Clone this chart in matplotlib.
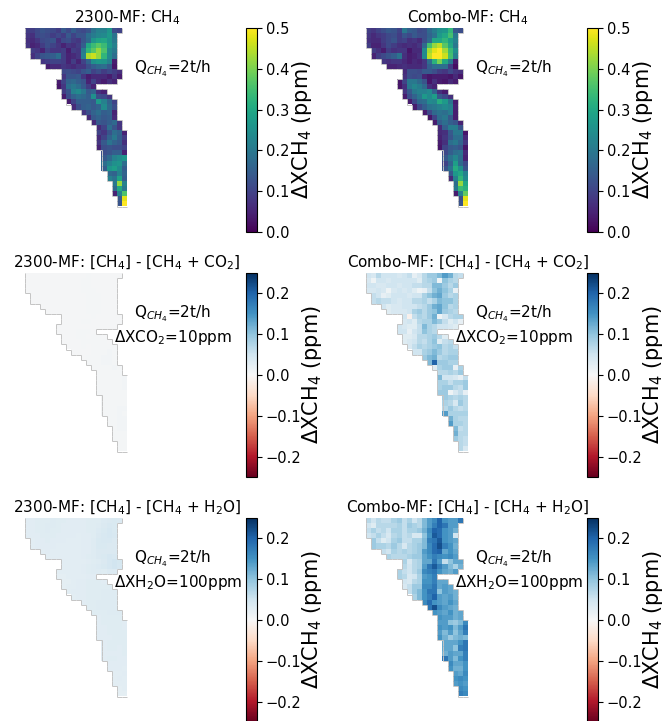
import numpy as np
from matplotlib import pyplot as plt
from matplotlib.collections import LineCollection

row_start = [0, 0, 0, 0, 1, 1, 3, 4, 7, 7, 6, 6, 7, 7, 8, 9, 11, 12, 13, 14, 14, 14, 14, 14,
             15, 15, 15, 15, 16, 16, 17, 17, 17, 18, 18]

# delta XCH4, units of 0.01 ppm
ch4_2300 = [
    [9,9,11,13,12,11,9,14,11,15,12,11,13,19,22,22,26,12,10],
    [8,7,11,12,11,9,11,9,14,10,13,13,18,21,23,24,27,19],
    [7,6,8,11,12,13,7,11,12,9,8,13,17,26,29,30,26,20],
    [8,5,6,9,12,10,8,5,8,7,9,15,30,34,37,34,27,22],
    [9,8,5,10,8,8,9,4,9,8,21,33,37,42,36,24,20],
    [7,10,13,14,15,18,9,5,6,8,22,44,46,42,33,24,18],
    [8,9,10,10,9,5,9,5,10,16,25,27,26,22,4],
    [4,6,6,8,7,6,8,8,12,15,17,18,14,3],
    [11,12,11,10,13,15,10,12,9,11,9,7],
    [8,13,13,14,8,4,6,6,6,4,8,4],
    [4,10,16,17,15,13,5,10,6,4,7,5],
    [3,8,18,20,18,14,9,5],
    [9,13,22,24,20,14,16,7,5],
    [4,12,16,18,17,15,25,12,11,8],
    [4,10,15,15,15,14,27,22,16,10],
    [6,12,15,16,14,16,24,17,12],
    [8,12,16,18,15,16,5],
    [6,14,16,14,15,6],
    [6,14,13,15,17,8],
    [6,10,18,13,8],
    [10,8,13,18,16,5],
    [6,10,16,20,15,9],
    [8,14,19,16,14,7],
    [5,12,13,12,12,10],
    [12,13,15,15,5],
    [14,17,22,24,26],
    [18,22,25,26,18],
    [15,26,28,24,15],
    [17,16,22,16],
    [22,19,29,15],
    [20,42,22],
    [17,30,20],
    [5,22,36],
    [14,48],
    [13,50],
]
ch4_combo = [
    [9,8,10,12,14,13,10,20,15,14,11,12,17,21,25,26,33,14,12],
    [8,6,8,9,11,12,9,13,11,14,12,12,16,19,27,30,35,20],
    [7,6,6,9,11,13,9,10,7,8,6,12,17,30,30,33,28,22],
    [9,5,5,8,11,9,7,6,7,6,8,17,35,42,45,37,30,20],
    [9,7,4,9,7,8,8,3,6,6,24,43,48,50,43,34,25],
    [5,9,11,13,15,19,7,4,5,7,24,45,50,50,46,35,22],
    [8,7,8,8,6,4,6,5,8,18,32,40,30,20,4],
    [5,5,6,7,6,6,6,8,15,18,18,18,9,2],
    [6,12,12,11,14,14,12,9,8,11,8,7],
    [7,12,11,12,5,3,4,4,4,3,6,3],
    [3,10,20,20,17,13,3,7,4,3,6,4],
    [3,7,20,23,21,17,7,5],
    [8,14,20,22,22,24,16,7,4],
    [4,12,16,20,27,24,28,14,11,7],
    [4,11,17,18,24,23,31,27,19,4],
    [4,11,15,19,20,22,24,22,5],
    [4,11,17,19,18,21,4],
    [3,10,18,20,14,4],
    [4,15,18,15,13,5],
    [6,15,21,21,13],
    [6,7,14,20,20,3],
    [5,8,13,18,18,6],
    [4,7,18,20,16,8],
    [3,10,14,15,13,3],
    [11,15,18,19,6],
    [14,19,23,18,5],
    [10,16,28,17,11],
    [13,19,31,25,13],
    [14,27,30,22],
    [6,22,33,24],
    [18,42,30],
    [20,34,32],
    [4,22,38],
    [12,48],
    [13,50],
]
# differences, combo panels in 0.01 ppm
co2_combo = [
    [5,4,7,5,5,5,4,5,6,2,4,7,9,9,11,14,12,7,6],
    [4,1,5,5,4,5,5,5,5,5,3,7,8,9,1,10,8,7],
    [5,5,4,4,5,5,4,5,5,6,6,7,7,11,11,9,7,9],
    [4,4,5,4,1,4,5,4,5,3,1,2,6,10,12,10,8,2],
    [6,5,2,3,5,5,5,4,5,5,8,10,12,13,9,7,8],
    [6,7,6,6,5,4,5,5,7,7,8,6,8,11,10,10,8],
    [5,3,4,4,5,5,5,6,7,9,12,13,10,7,8],
    [3,4,4,4,5,8,9,7,9,10,13,9,8,7],
    [5,-1,6,8,7,9,12,1,4,7,8,8],
    [4,5,3,7,8,8,11,9,6,3,5,2],
    [5,4,3,3,6,11,8,7,5,5,4,3],
    [5,5,2,5,6,10,8,7],
    [3,3,4,7,7,8,9,7,3],
    [3,4,5,7,6,8,10,3,6,7],
    [4,6,8,7,8,9,10,7,8,6],
    [5,5,8,9,11,9,7,8,8],
    [9,11,12,7,8,9,9],
    [11,20,9,9,8,8],
    [3,8,9,9,2,8],
    [7,7,8,7,9],
    [11,5,5,4,2,6],
    [8,8,6,8,8,9],
    [8,9,9,7,6,9],
    [9,9,1,4,6,2],
    [9,8,7,8,7],
    [8,7,4,9,7],
    [7,9,7,6,7],
    [14,8,8,8,8],
    [12,8,7,7],
    [14,8,8,7],
    [11,6,7],
    [12,7,7],
    [9,7,6],
    [7,6],
    [7,4],
]
h2o_combo = [
    [7,5,7,6,6,8,9,6,8,5,7,11,14,16,20,15,14,14,18],
    [5,3,7,7,7,7,8,6,9,8,7,11,14,17,20,18,14,14],
    [6,8,6,7,5,8,8,6,8,8,9,12,16,20,19,15,14,12],
    [5,6,8,6,4,7,8,6,7,4,4,10,15,21,19,15,14,5],
    [9,6,3,5,8,9,6,6,8,8,11,17,18,21,15,14,13],
    [9,8,8,7,9,7,4,7,8,9,11,16,19,22,17,15,12],
    [6,5,8,7,8,7,8,9,14,16,19,20,13,15,13],
    [8,7,7,7,8,9,9,13,15,17,16,15,16,14],
    [8,4,7,8,13,13,18,14,6,10,13,13],
    [7,5,7,8,14,18,21,17,14,11,8,12],
    [8,6,5,7,9,16,17,18,15,13,12,14],
    [8,7,4,5,8,14,15,17],
    [5,4,7,8,15,15,17,13,13],
    [4,6,9,9,16,16,18,13,14,13],
    [6,9,11,15,18,18,10,14,13,12],
    [8,11,15,17,20,14,13,14,12],
    [16,19,15,14,13,15,13],
    [18,22,16,14,13,12],
    [15,14,13,15,12,13],
    [15,14,14,12,13],
    [14,14,10,9,11,16],
    [15,14,15,11,14,18],
    [14,11,14,10,13,17],
    [15,12,9,11,12,11],
    [13,13,13,15,18],
    [13,13,10,17,18],
    [12,14,13,13,17],
    [18,14,11,15,17],
    [16,13,13,15],
    [15,12,12,15],
    [14,13,16],
    [15,16,15],
    [14,15,14],
    [16,15],
    [17,16],
]
# differences, 2300 panels in 0.001 ppm
co2_2300 = [
    [2,2,2,3,2,2,3,2,2,3,3,3,4,3,3,3,3,2,2],
    [2,2,3,2,2,3,2,2,3,3,3,4,4,3,3,3,3,2],
    [2,2,2,2,3,2,2,3,3,3,3,4,5,3,3,3,3,3],
    [2,3,2,2,2,3,3,2,3,3,3,4,4,4,3,3,3,3],
    [2,2,2,2,3,2,3,3,3,3,3,5,4,4,3,3,3],
    [2,2,3,2,2,3,3,3,3,3,3,5,4,4,3,3,3],
    [2,2,3,3,3,3,3,3,3,4,4,4,3,3,3],
    [2,3,2,3,3,3,3,3,4,4,4,3,3,3],
    [3,3,3,3,3,3,4,3,3,3,3,3],
    [3,3,3,3,4,4,3,3,3,3,3,3],
    [3,3,3,3,3,3,3,3,3,3,3,3],
    [3,3,3,3,4,5,4,3],
    [3,3,3,4,4,3,4,5,3],
    [3,3,3,3,4,4,5,4,4,3],
    [3,3,3,4,3,4,4,5,5,4],
    [3,3,3,3,4,5,5,6,5],
    [3,4,4,5,6,7,5],
    [4,4,4,6,6,5],
    [4,4,4,5,7,5],
    [4,4,5,5,5],
    [4,4,4,5,5,6],
    [4,4,4,5,5,7],
    [4,4,4,5,5,6],
    [4,4,4,4,5,5],
    [4,4,4,5,5],
    [4,4,4,5,5],
    [4,4,4,6,6],
    [4,4,5,6,5],
    [4,5,6,6],
    [4,5,7,6],
    [5,6,6],
    [5,5,5],
    [4,5,5],
    [5,5],
    [4,4],
]
h2o_2300 = [
    [28,28,30,30,30,32,30,30,28,28,28,28,30,30,30,34,36,38,36],
    [28,28,30,30,32,32,30,28,28,28,28,28,30,30,32,36,40,38],
    [28,28,30,30,32,30,30,28,28,28,28,28,30,30,34,38,42,38],
    [28,28,28,30,30,30,28,28,28,28,26,28,28,30,36,40,42,40],
    [26,28,28,30,28,28,28,26,26,26,28,28,32,38,40,40,36],
    [26,28,28,28,28,26,26,26,26,26,28,28,32,38,38,36,36],
    [26,28,26,26,26,26,26,26,28,28,32,36,36,36,36],
    [26,26,26,26,26,26,26,28,30,32,36,38,42,40],
    [26,26,26,26,26,28,30,32,36,42,48,44],
    [26,26,26,26,28,30,32,34,38,42,48,42],
    [26,26,26,26,26,28,30,32,32,30,34,34],
    [24,24,26,26,26,26,28,28],
    [24,24,26,28,28,30,30,30,28],
    [24,26,26,28,28,30,30,30,30,30],
    [26,28,28,28,30,30,30,32,32,32],
    [26,28,28,30,30,30,32,32,32],
    [28,30,30,32,32,32,32],
    [30,30,32,32,32,32],
    [30,30,30,32,32,32],
    [28,30,30,30,30],
    [28,30,30,30,30,28],
    [28,28,30,30,30,28],
    [28,28,30,30,30,30],
    [28,28,28,30,30,30],
    [28,30,30,30,30],
    [28,30,30,28,30],
    [28,28,28,28,30],
    [28,30,30,28,28],
    [28,28,28,28],
    [28,28,28,26],
    [26,26,28],
    [26,28,26],
    [26,26,26],
    [24,26],
    [24,24],
]

mf_titles = ["2300-MF", "Combo-MF"]
gas_titles = ["CH$_4$", "[CH$_4$] - [CH$_4$ + CO$_2$]", "[CH$_4$] - [CH$_4$ + H$_2$O]"]
rate_label = "Q$_{CH_4}$=2t/h"
gas_labels = [None, r"$\Delta$XCO$_2$=10ppm", r"$\Delta$XH$_2$O=100ppm"]
cbar_ticks = [[0.0, 0.1, 0.2, 0.3, 0.4, 0.5],
              [-0.2, -0.1, 0.0, 0.1, 0.2],
              [-0.2, -0.1, 0.0, 0.1, 0.2]]

W, H = 665, 721
n_grid = 40
col_x = [25, 366]
cbar_x = [246, 587]
cbar_w = 10.5
label_x = [56, 66, 66]  # colorbar label centre, pixels right of the bar
row_y = [28, 273, 518]
side = 204


def px_axes(fig, x, y, w, h):
    return fig.add_axes([x / W, 1 - (y + h) / H, w / W, h / H])


def to_grid(rows, scale):
    grid = np.full((n_grid, n_grid), np.nan)
    for r, vals in enumerate(rows):
        grid[r, row_start[r]:row_start[r] + len(vals)] = np.array(vals) * scale
    return grid


def edge_segments(grid):
    # light edge round the scene, except where it is cut by the top and right of the tile
    m = ~np.isnan(grid)
    segs = []
    for r, c in zip(*np.nonzero(m)):
        if r > 0 and not m[r - 1, c]:
            segs.append([(c - 0.5, r - 0.5), (c + 0.5, r - 0.5)])
        if not m[r + 1, c]:
            segs.append([(c - 0.5, r + 0.5), (c + 0.5, r + 0.5)])
        if c > 0 and not m[r, c - 1] or c == 0:
            segs.append([(c - 0.5, r - 0.5), (c - 0.5, r + 0.5)])
        if c < 19 and not m[r, c + 1]:
            segs.append([(c + 0.5, r - 0.5), (c + 0.5, r + 0.5)])
    return segs


panels = [[(ch4_2300, 0.01), (ch4_combo, 0.01)],
          [(co2_2300, 0.001), (co2_combo, 0.01)],
          [(h2o_2300, 0.001), (h2o_combo, 0.01)]]

fig = plt.figure(figsize=(W / 100, H / 100), dpi=100)

for i in range(3):
    for j in range(2):
        ax = px_axes(fig, col_x[j], row_y[i], side, side)
        grid = to_grid(*panels[i][j])
        if i == 0:
            im = ax.imshow(grid, cmap="viridis", vmin=0, vmax=0.5, interpolation="nearest")
        else:
            im = ax.imshow(grid, cmap="RdBu", vmin=-0.25, vmax=0.25, interpolation="nearest")
        ax.add_collection(LineCollection(edge_segments(grid), colors="#c4c4c4", linewidths=0.7))
        ax.axis("off")
        ax.set_title(f"{mf_titles[j]}: {gas_titles[i]}", fontsize=11, pad=4)
        ax.text(20.8, 7.4, rate_label, fontsize=11, va="center", clip_on=False)
        if gas_labels[i]:
            ax.text(16.9, 12.2, gas_labels[i], fontsize=11, va="center", clip_on=False)

        cax = px_axes(fig, cbar_x[j], row_y[i], cbar_w, side)
        cb = fig.colorbar(im, cax=cax, ticks=cbar_ticks[i])
        cb.ax.tick_params(labelsize=10.5, pad=3)
        cb.set_label(r"$\Delta$XCH$_4$ (ppm)", fontsize=15)
        cb.ax.yaxis.label.set_va("center")
        cb.ax.yaxis.set_label_coords(label_x[i] / cbar_w, 0.5)

plt.savefig("out.png", dpi=100)
